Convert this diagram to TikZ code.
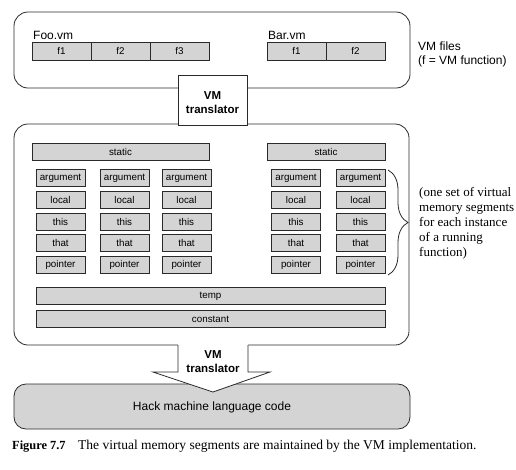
\documentclass[tikz,border=0pt]{standalone}
\usepackage{fontspec}
\setmainfont{Liberation Serif}
\newfontfamily\sansf{Liberation Sans}
\usetikzlibrary{decorations.pathreplacing}
\definecolor{segfill}{HTML}{D4D4D4}
\definecolor{edge}{HTML}{2A2A2A}
\tikzset{
  bigbox/.style={draw=edge, line width=0.8pt, rounded corners=14pt, inner sep=0pt, outer sep=0pt},
  seg/.style={draw=edge, line width=0.9pt, fill=segfill, inner sep=0pt, outer sep=0pt,
    minimum height=17pt, font=\sansf\fontsize{9.8}{11}\selectfont},
  colseg/.style={seg, minimum width=49pt},
  fbox/.style={seg, minimum width=59pt, minimum height=18pt},
  lbl/.style={font=\sansf\fontsize{12}{14}\selectfont, inner sep=0pt},
  trans/.style={font=\sansf\bfseries\fontsize{11.5}{14}\selectfont, align=center, inner sep=0pt},
}
\begin{document}
\begin{tikzpicture}[x=1pt,y=-1pt]
\useasboundingbox (0,0) rectangle (516,469);
% VM files box
\node[bigbox, minimum width=396pt, minimum height=76pt] (files) at (212,50) {};
\node[lbl, anchor=base west] (foo) at (33,39.5) {Foo.vm};
\node[lbl, anchor=base west] (bar) at (268,39.5) {Bar.vm};
\node[fbox] (ff1) at (61.5,51) {f1};
\node[fbox] (ff2) at (120.5,51) {f2};
\node[fbox] (ff3) at (179.5,51) {f3};
\node[fbox] (bf1) at (296.5,51) {f1};
\node[fbox] (bf2) at (355.5,51) {f2};
\node[lbl, anchor=west, align=left] (vmfiles) at (418,54) {VM files\\(f = VM function)};
% memory box
\node[bigbox, minimum width=395pt, minimum height=221pt] (mem) at (211.5,234.5) {};
% top translator
\node[draw=edge, line width=0.8pt, fill=white, minimum width=69pt, minimum height=50pt, inner sep=0pt, outer sep=0pt] (tr1) at (212.5,100) {};
\node[trans] (tr1t) at (212.5,103) {VM\\translator};
% static
\node[seg, minimum width=177pt] (st1) at (120.5,151.5) {static};
\node[seg, minimum width=118pt] (st2) at (326,151.5) {static};
% columns
\foreach \cx/\cn in {60.5/a,124.5/b,186.5/c,296/d,360.5/e}{
  \node[colseg] (arg\cn) at (\cx,178) {argument};
  \node[colseg] (loc\cn) at (\cx,199.75) {local};
  \node[colseg] (this\cn) at (\cx,221.5) {this};
  \node[colseg] (that\cn) at (\cx,243.25) {that};
  \node[colseg] (ptr\cn) at (\cx,265) {pointer};
}
\node[seg, minimum width=349pt, minimum height=16.5pt] (temp) at (210.5,296) {temp};
\node[seg, minimum width=349pt, minimum height=16.5pt] (const) at (210.5,319) {constant};
% brace
\coordinate (btop) at (388,170);
\coordinate (bbot) at (388,275);
\draw[edge, line width=0.8pt, decorate, decoration={brace, amplitude=20pt}] (btop) -- (bbot);
\node[anchor=west, align=left, inner sep=0pt, font=\fontsize{13}{15}\selectfont] (note) at (419,223)
  {(one set of virtual\\memory segments\\for each instance\\of a running\\function)};
% Hack box
\node[bigbox, fill=segfill, rounded corners=12pt, minimum width=396pt, minimum height=45pt] (hack) at (212,406.5) {};
\node[lbl] (hackt) at (212,407) {Hack machine language code};
% bottom translator arrow
\fill[white] (178,344) -- (178,372) -- (153,372) -- (213,392) -- (270,372) -- (248,372) -- (248,344) -- cycle;
\draw[edge, line width=0.8pt, line join=miter] (178,345) -- (178,372) -- (153,372) -- (213,392) -- (270,372) -- (248,372) -- (248,345);
\node[trans] (tr2t) at (213,362) {VM\\translator};
% caption
\node[anchor=base west, inner sep=0pt, font=\bfseries\fontsize{12.4}{14}\selectfont] (figlbl) at (12,449) {Figure 7.7};
\node[anchor=base west, inner sep=0pt, font=\fontsize{13.5}{15}\selectfont] (cap) at (78,449) {The virtual memory segments are maintained by the VM implementation.};
\end{tikzpicture}
\end{document}
